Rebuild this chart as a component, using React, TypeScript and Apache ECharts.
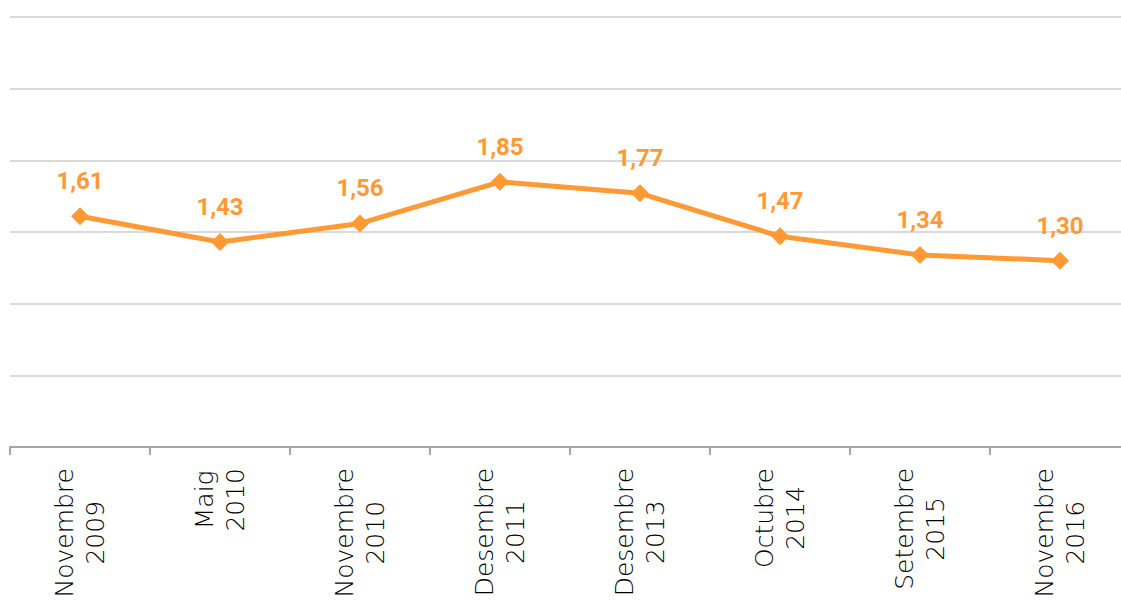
import React, { useEffect, useRef } from "react";
import * as echarts from "echarts";

const categories = [
  "Novembre\n2009",
  "Maig\n2010",
  "Novembre\n2010",
  "Desembre\n2011",
  "Desembre\n2013",
  "Octubre\n2014",
  "Setembre\n2015",
  "Novembre\n2016",
];
const values = [1.61, 1.43, 1.56, 1.85, 1.77, 1.47, 1.34, 1.3];
const yTicks = { min: 0, max: 3, interval: 0.5 };

const ORANGE = "#FF9933";

export default function App() {
  const ref = useRef<HTMLDivElement>(null);
  useEffect(() => {
    if (!ref.current) return;
    const chart = echarts.init(ref.current, null, { renderer: "svg" });
    chart.setOption({
      animation: false,
      backgroundColor: "#ffffff",
      grid: { left: 10, right: 0, top: 17, bottom: 157, containLabel: false },
      xAxis: {
        type: "category",
        data: categories,
        boundaryGap: true,
        axisLine: { show: true, lineStyle: { color: "#A6A6A6", width: 2 } },
        axisTick: { show: true, length: 8, lineStyle: { color: "#A6A6A6", width: 2 } },
        axisLabel: {
          rotate: 90,
          margin: 21,
          interval: 0,
          color: "#000000",
          fontFamily: "DejaVu Sans",
          fontWeight: 200,
          fontSize: 25,
          lineHeight: 31,
          formatter: (v: string) =>
            v
              .split("\n")
              .map((s) => `{c|${s}}`)
              .join("\n"),
          rich: {
            c: {
              align: "center",
              fontFamily: "DejaVu Sans",
              fontWeight: 200,
              fontSize: 25,
              lineHeight: 31,
              color: "#000000",
            },
          },
        },
      },
      yAxis: {
        type: "value",
        min: yTicks.min,
        max: yTicks.max,
        interval: yTicks.interval,
        axisLine: { show: false },
        axisTick: { show: false },
        axisLabel: { show: false },
        splitLine: { show: true, lineStyle: { color: "#D9D9D9", width: 2 } },
      },
      series: [
        {
          type: "line",
          data: values,
          symbol: "diamond",
          symbolSize: 18,
          itemStyle: { color: ORANGE },
          lineStyle: { color: ORANGE, width: 5 },
          label: {
            show: true,
            position: "top",
            distance: 14,
            color: ORANGE,
            fontFamily: "Roboto",
            fontWeight: "bold",
            fontSize: 24,
            formatter: (p: any) => p.value.toFixed(2).replace(".", ","),
          },
        },
      ],
    });
    return () => chart.dispose();
  }, []);
  return (
    <div
      style={{
        position: "absolute",
        left: 0,
        top: 0,
        width: 1121,
        height: 604,
        overflow: "hidden",
      }}
    >
      <div ref={ref} style={{ width: 1130, height: 604 }} />
    </div>
  );
}
